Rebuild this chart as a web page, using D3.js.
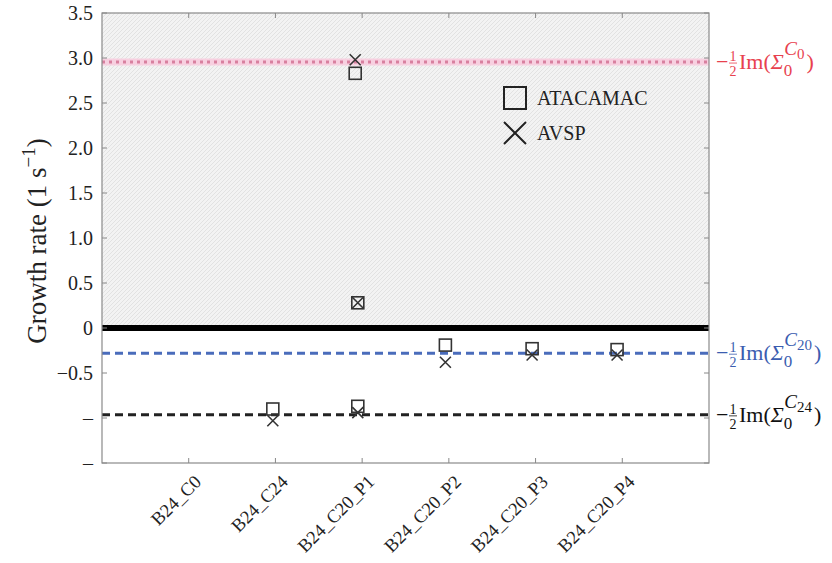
<!DOCTYPE html>
<html>
<head>
<meta charset="utf-8">
<script src="https://cdn.jsdelivr.net/npm/d3@7/dist/d3.min.js"></script>
<style>
html,body{margin:0;padding:0;background:#fff;}
svg{display:block;}
</style>
</head>
<body>
<svg id="chart" width="832" height="563"></svg>
<script>
// ---- data ----
const categories = ["B24_C0","B24_C24","B24_C20_P1","B24_C20_P2","B24_C20_P3","B24_C20_P4"];
const yTicks = [3.5,3.0,2.5,2.0,1.5,1.0,0.5,0,-0.5,-1.0,-1.5];
const yTickLabels = ["3.5","3.0","2.5","2.0","1.5","1.0","0.5","0","\u22120.5","\u2013","\u2013"];
// marker positions (category-index units) and values
const atacamacX = [1.92, 0.97, 1.95, 1.95, 2.96, 3.96, 4.94];
const atacamacY = [2.83, -0.90, 0.28, -0.87, -0.19, -0.23, -0.24];
const avspX     = [1.92, 0.97, 1.95, 1.95, 2.96, 3.96, 4.94];
const avspY     = [2.98, -1.03, 0.28, -0.94, -0.38, -0.30, -0.30];
const refNames  = ["C0","C20","C24"];
const refValues = [2.955, -0.28, -0.965];
const refColors = ["#e8414e","#3b5db0","#111111"];
const legendNames = ["ATACAMAC","AVSP"];

const FONT = "Liberation Serif";

// ---- layout ----
const svg = d3.select("#chart");
const L = 102, R = 709, T = 13, B = 463;
const x = d3.scaleLinear().domain([-1, categories.length]).range([L, R]);
const y = d3.scaleLinear().domain([-1.5, 3.5]).range([B, T]);

const defs = svg.append("defs");
const pat = defs.append("pattern").attr("id","hatch").attr("patternUnits","userSpaceOnUse")
  .attr("width",4).attr("height",4);
pat.append("rect").attr("width",4).attr("height",4).attr("fill","#f3f3f3");
pat.append("path").attr("d","M-1,1 l2,-2 M0,4 l4,-4 M3,5 l2,-2").attr("stroke","#e2e2e2").attr("stroke-width",1);

svg.append("rect").attr("x",L).attr("y",T).attr("width",R-L).attr("height",y(0)-T).attr("fill","url(#hatch)");

refValues.forEach((v,i)=>{
  const yy = y(v);
  if(i===0){
    svg.append("line").attr("x1",L).attr("x2",R).attr("y1",yy).attr("y2",yy)
      .attr("stroke","#f7d0e0").attr("stroke-width",7);
    svg.append("line").attr("x1",L).attr("x2",R).attr("y1",yy).attr("y2",yy)
      .attr("stroke","#d8809f").attr("stroke-width",3).attr("stroke-dasharray","3,4");
  } else {
    svg.append("line").attr("x1",L).attr("x2",R).attr("y1",yy).attr("y2",yy)
      .attr("stroke", i===1 ? "#4a6cbb" : "#222").attr("stroke-width",3).attr("stroke-dasharray","8,5");
  }
});

svg.append("line").attr("x1",L).attr("x2",R).attr("y1",y(0)).attr("y2",y(0))
  .attr("stroke","#000").attr("stroke-width",6);

svg.append("rect").attr("x",L).attr("y",T).attr("width",R-L).attr("height",B-T)
  .attr("fill","none").attr("stroke","#8a8a8a").attr("stroke-width",1.2);

const yAxis = d3.axisLeft(y).tickValues(yTicks).tickSize(0).tickPadding(9)
  .tickFormat((d,i)=>yTickLabels[i]);
const ga = svg.append("g").attr("transform",`translate(${L},0)`).call(yAxis);
ga.attr("font-family",FONT);
ga.select(".domain").remove();
ga.selectAll("text").attr("font-size",20).attr("fill","#222").style("font-family",FONT);
yTicks.forEach(v=>{
  svg.append("line").attr("x1",L).attr("x2",L+5).attr("y1",y(v)).attr("y2",y(v)).attr("stroke","#888");
  svg.append("line").attr("x1",R-5).attr("x2",R).attr("y1",y(v)).attr("y2",y(v)).attr("stroke","#888");
});

const xAxis = d3.axisBottom(x).tickValues(d3.range(categories.length)).tickSize(0).tickPadding(0)
  .tickFormat(i=>categories[i]);
const gx = svg.append("g").attr("transform",`translate(0,${B})`).call(xAxis);
gx.attr("font-family",FONT);
gx.select(".domain").remove();
gx.selectAll("text").attr("font-size",18.5).attr("fill","#222").style("font-family",FONT)
  .attr("text-anchor","end").attr("dy",0).attr("y",0)
  .attr("transform","translate(13,20) rotate(-45)");
d3.range(categories.length).forEach(i=>{
  svg.append("line").attr("x1",x(i)).attr("x2",x(i)).attr("y1",B-5).attr("y2",B).attr("stroke","#888");
  svg.append("line").attr("x1",x(i)).attr("x2",x(i)).attr("y1",T).attr("y2",T+5).attr("stroke","#888");
});

svg.append("text").attr("transform",`translate(46,${(T+B)/2 + 3}) rotate(-90)`)
  .attr("text-anchor","middle").attr("font-size",27).attr("fill","#222").style("font-family",FONT)
  .html('Growth rate (1 s<tspan dy="-11" font-size="19">\u22121</tspan><tspan dy="11">)</tspan>');

const sq = 12, xs = 11;
const gA = svg.append("g");
atacamacX.forEach((xv,i)=>{
  gA.append("rect").attr("x",x(xv)-sq/2).attr("y",y(atacamacY[i])-sq/2).attr("width",sq).attr("height",sq)
    .attr("fill","none").attr("stroke","#333").attr("stroke-width",1.6);
});
const gV = svg.append("g");
avspX.forEach((xv,i)=>{
  const cx = x(xv), cy = y(avspY[i]), h = xs/2;
  gV.append("path").attr("d",`M${cx-h},${cy-h}L${cx+h},${cy+h}M${cx-h},${cy+h}L${cx+h},${cy-h}`)
    .attr("stroke","#333").attr("stroke-width",1.6).attr("fill","none");
});

const lg = svg.append("g").attr("transform","translate(515,0)");
lg.append("rect").attr("x",-11).attr("y",98-11).attr("width",22).attr("height",22)
  .attr("fill","none").attr("stroke","#222").attr("stroke-width",2);
lg.append("path").attr("d","M-11,122L11,144M-11,144L11,122").attr("stroke","#222").attr("stroke-width",2);
legendNames.forEach((n,i)=>{
  lg.append("text").attr("x",22).attr("y",[98,133][i]).attr("dy","0.35em")
    .attr("font-size",20).attr("fill","#222").style("font-family",FONT).text(n);
});

refValues.forEach((v,i)=>{
  const g = svg.append("g").attr("transform",`translate(716,${y(v)})`).attr("fill",refColors[i]).style("font-family",FONT);
  g.append("text").attr("x",0).attr("y",7).attr("font-size",22).text("\u2212");
  g.append("text").attr("x",17).attr("y",-1).attr("font-size",14).attr("text-anchor","middle").text("1");
  g.append("line").attr("x1",13).attr("x2",21).attr("y1",1).attr("y2",1).attr("stroke",refColors[i]).attr("stroke-width",0.8);
  g.append("text").attr("x",17).attr("y",14).attr("font-size",14).attr("text-anchor","middle").text("2");
  const t = g.append("text").attr("x",23).attr("y",7).attr("font-size",22);
  t.append("tspan").text("Im(");
  t.append("tspan").attr("font-style","italic").text("\u03A3");
  t.append("tspan").attr("font-size",17).attr("dy",7).text("0");
  t.append("tspan").attr("font-size",19).attr("font-style","italic").attr("dx",-8).attr("dy",-21).text("C");
  t.append("tspan").attr("font-size",15).attr("dy",4).text(refNames[i].slice(1));
  t.append("tspan").attr("dy",10).attr("dx",2).text(")");
});
</script>
</body>
</html>
